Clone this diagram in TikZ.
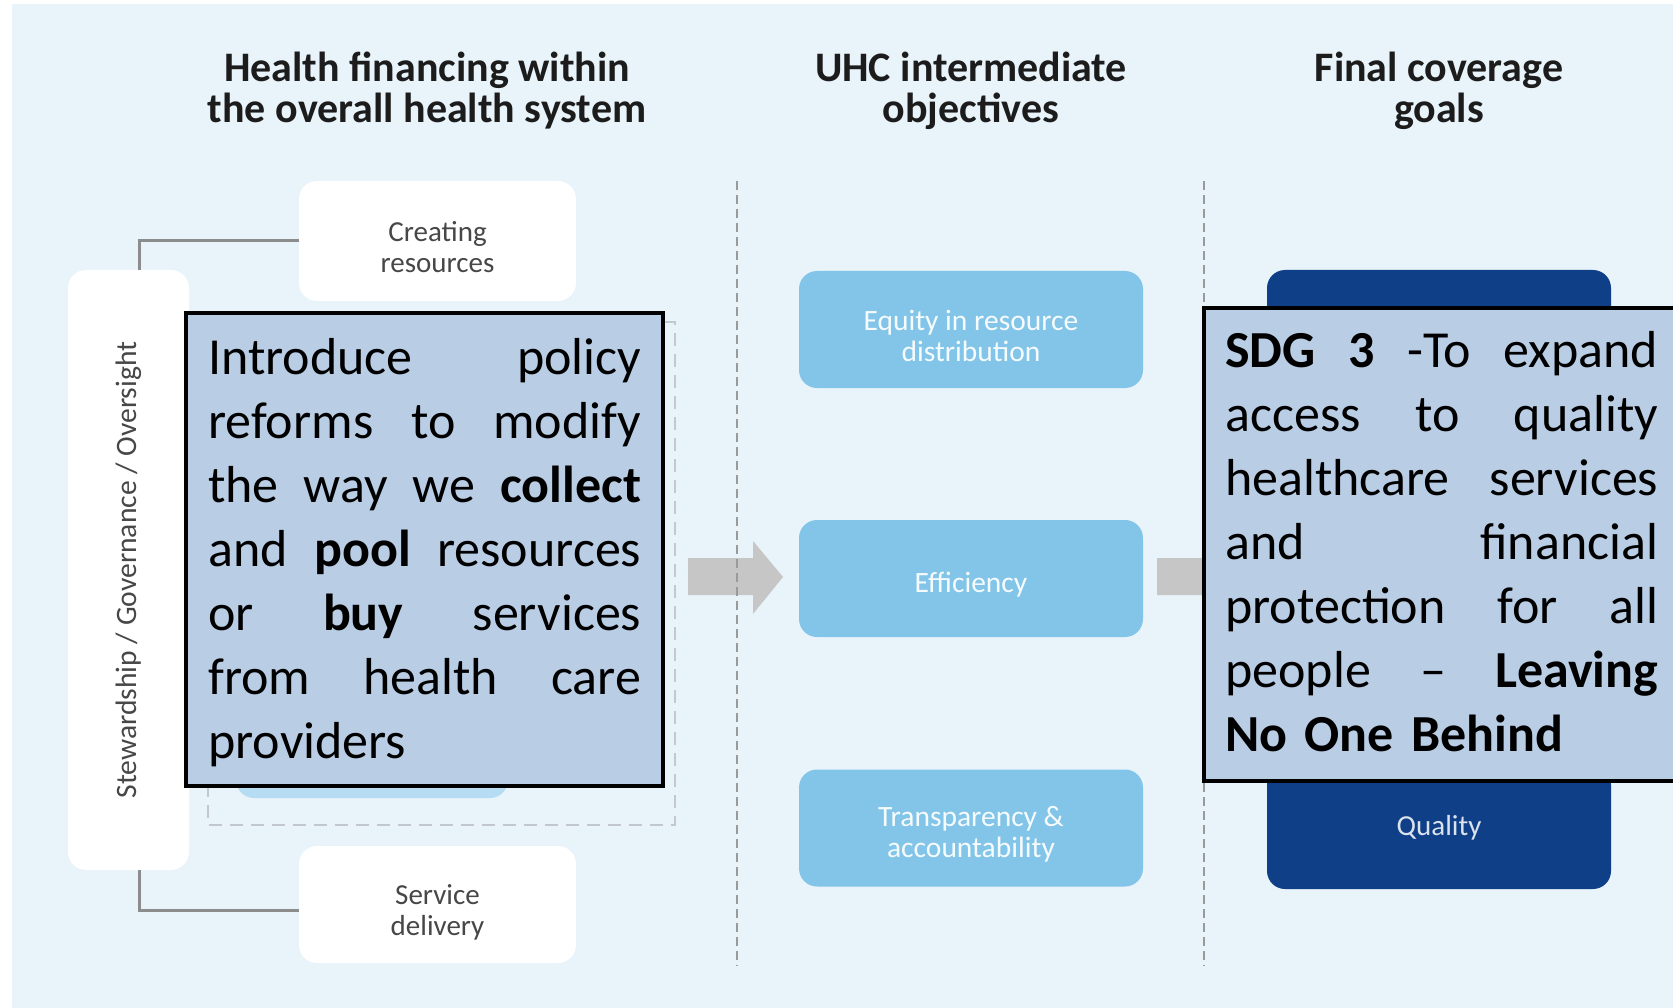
\documentclass[tikz,border=0pt]{standalone}
\usepackage{fontspec}
\setmainfont{Carlito}
\usetikzlibrary{calc}
\definecolor{bgblue}{HTML}{E8F3FA}
\definecolor{midblue}{HTML}{82C5E8}
\definecolor{navy}{HTML}{0E3F87}
\definecolor{notefill}{HTML}{B9CDE5}
\definecolor{paleblue}{HTML}{B5DCF2}
\definecolor{sepgray}{HTML}{9A9A9A}
\definecolor{boxgray}{HTML}{C2C8CE}
\definecolor{linkgray}{HTML}{8C8C8C}
\definecolor{arrowgray}{HTML}{C6C6C6}
\definecolor{labelgray}{HTML}{474747}
\definecolor{headink}{HTML}{1C1C1C}

% one fully justified line of fixed width
\newcommand{\jl}[1]{\makebox[433pt][s]{\spaceskip=0.25em plus 1fil\relax #1}}

\begin{document}
\begin{tikzpicture}[x=1pt,y=-1pt,
  header/.style={font=\fontsize{42}{41}\selectfont\bfseries, text=headink, align=center, inner sep=0},
  whitebox/.style={fill=white, rounded corners=18pt, minimum width=277pt, inner sep=0},
  objbox/.style={fill=midblue, rounded corners=18pt, minimum width=344pt, minimum height=117pt, inner sep=0},
  goalbox/.style={fill=navy, rounded corners=18pt, minimum width=344pt, inner sep=0},
  greylabel/.style={align=center, inner sep=0, yshift=-6pt, text=labelgray, font=\fontsize{29}{31}\selectfont},
  whitelabel/.style={align=center, inner sep=0, yshift=-6pt, text=white!93!midblue, font=\fontsize{29.5}{31}\selectfont},
  notebox/.style={draw=black, line width=3.5pt, fill=notefill, inner sep=0},
  notetext/.style={inner sep=0, text width=433pt, align=left, font=\fontsize{52}{64}\selectfont, text=black},
  link/.style={draw=linkgray, line width=3pt},
  separator/.style={draw=sepgray, line width=2pt, dash pattern=on 9pt off 5pt},
]
\useasboundingbox (0,0) rectangle (1673,1008);
\clip (0,0) rectangle (1673,1008);

% background panel
\fill[white] (0,0) rectangle (1673,1008);
\fill[bgblue] (12,4) rectangle (1673,1008);

% headers (anchored on the baseline of their last line)
\node[header, anchor=base] (h1) at (427,123) {Health financing within\\the overall health system};
\node[header, anchor=base] (h2) at (971,123) {UHC intermediate\\objectives};
\node[header, anchor=base] (h3) at (1439,123) {Final coverage\\goals};

% health financing functions (dashed frame and inner box)
\draw[boxgray, line width=2.5pt, dash pattern=on 13pt off 8pt] (208,322) rectangle (675,825);
\fill[paleblue, rounded corners=18pt] (236,680) rectangle (508,798);

% health system building blocks
\node[whitebox, rotate=90, minimum width=600pt, minimum height=121pt,
  text=labelgray, font=\fontsize{29.6}{31}\selectfont] (stew) at (128.5,570)
  {Stewardship / Governance / Oversight};
\node[whitebox, minimum height=120pt, label={[greylabel]center:{Creating\\resources}}] (create) at (437.5,241) {};
\node[whitebox, minimum height=117pt, label={[greylabel, yshift=-1.5pt]center:{Service\\delivery}}] (service) at (437.5,904.5) {};
\draw[link] ($(stew.east)+(10.5,0)$) |- (create.west);
\draw[link] ($(stew.west)+(10.5,0)$) |- ($(service.west)+(0,5.5)$);

% block arrows between columns
\fill[arrowgray] (688,558) -- (753,558) -- (753,541) -- (783,577) -- (753,614) -- (753,595) -- (688,595) -- cycle;
\fill[arrowgray] (1157,558) -- (1215,558) -- (1215,541) -- (1245,577) -- (1215,614) -- (1215,595) -- (1157,595) -- cycle;

% intermediate objectives
\node[objbox, label={[whitelabel]center:{Equity in resource\\distribution}}] (equity) at (971,329.5) {};
\node[objbox, label={[whitelabel]center:Efficiency}] (eff) at (971,578.5) {};
\node[objbox, label={[whitelabel]center:{Transparency \&\\accountability}}] (transp) at (971,828) {};

% final coverage goals
\fill[navy, rounded corners=18pt] (1267,270) rectangle (1611,420);
\node[goalbox, minimum height=122pt, text=white!85!navy, font=\fontsize{29}{31}\selectfont] (quality) at (1439,828) {Quality};

% column separators
\draw[separator] (737,181) -- (737,966);
\draw[separator] (1204,181) -- (1204,966);

% callout boxes
\node[notebox, minimum width=477pt, minimum height=473pt] (reform) at (424.5,549.5) {};
\node[notetext, anchor=base west] (reformtext) at (208,374) {%
\jl{Introduce policy}\\
\jl{reforms to modify}\\
\jl{the way we \textbf{collect}}\\
\jl{and \textbf{pool} resources}\\
\jl{or \textbf{buy} services}\\
\jl{from health care}\\
providers};

\node[notebox, minimum width=520pt, minimum height=473pt] (sdg) at (1464,544.5) {};
\node[notetext, anchor=base west] (sdgtext) at (1225,367) {%
\jl{\textbf{SDG 3} -To expand}\\
\jl{access to quality}\\
\jl{healthcare services}\\
\jl{and financial}\\
\jl{protection for all}\\
\jl{people – \textbf{Leaving}}\\
\textbf{No One Behind}};
\end{tikzpicture}
\end{document}
